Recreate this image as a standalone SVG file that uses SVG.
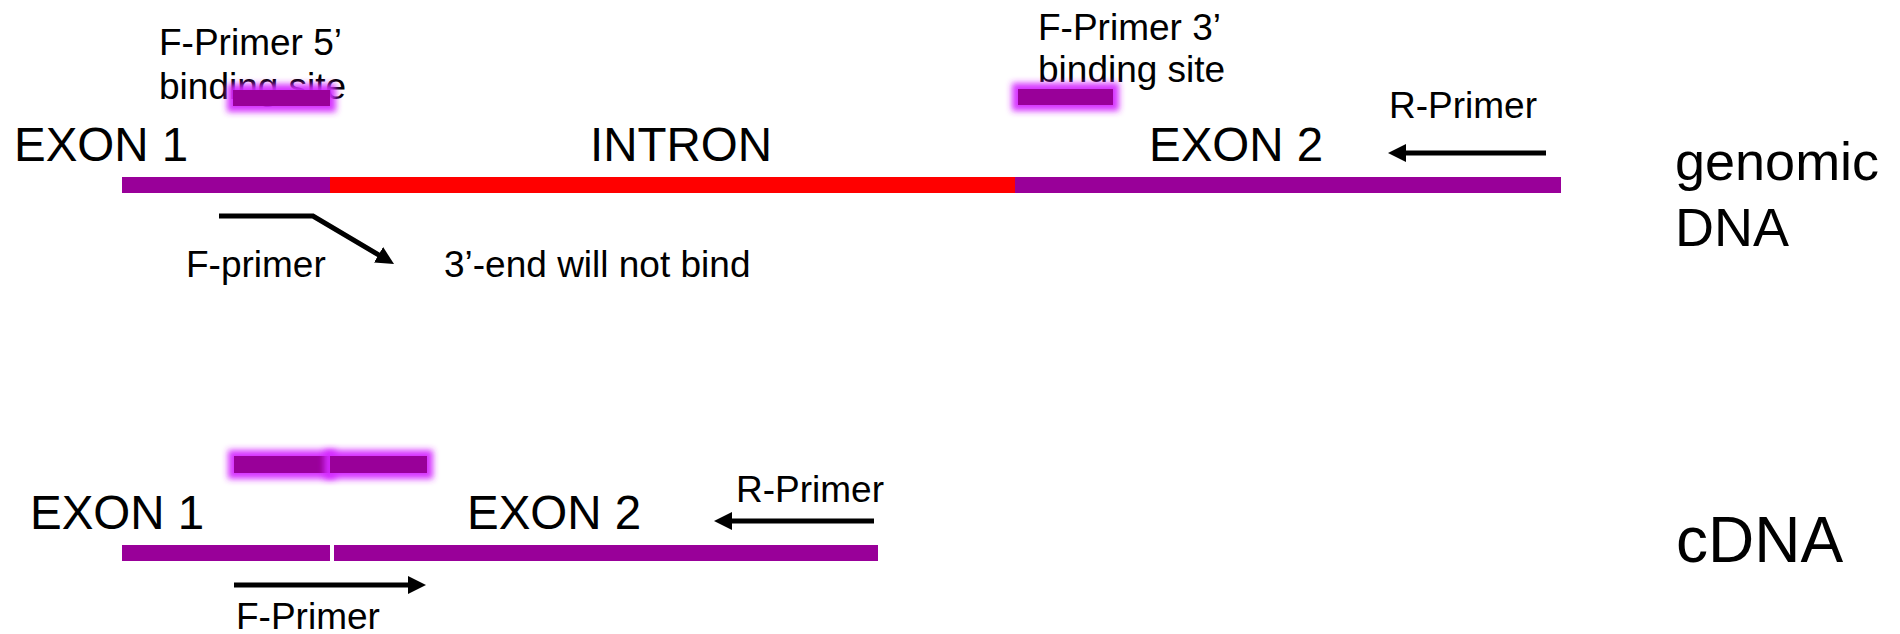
<svg xmlns="http://www.w3.org/2000/svg" width="1900" height="634" viewBox="0 0 1900 634">
<style>
text{font-family:"Liberation Sans",Arial,sans-serif;fill:#000}
.big{font-size:47.5px}
.sm{font-size:37px}
.lbl{font-size:54px}
.exon{fill:#990099}
.intron{fill:#ff0000}
.site{fill:#990099;filter:url(#glow)}
.arr{stroke:#000;stroke-width:5;fill:none;marker-end:url(#ah)}
</style>
<defs>
<marker id="ah" markerUnits="userSpaceOnUse" markerWidth="18" markerHeight="18" refX="8" refY="9" orient="auto" viewBox="0 0 18 18">
<path d="M0,0 L18,9 L0,18 z" fill="#000"/>
</marker>
<filter id="glow" x="-40%" y="-150%" width="180%" height="400%">
<feMorphology in="SourceAlpha" operator="dilate" radius="6" result="d"/>
<feGaussianBlur in="d" stdDeviation="3.2" result="b"/>
<feFlood flood-color="#d42aff" flood-opacity="0.95"/>
<feComposite in2="b" operator="in" result="g"/>
<feMerge><feMergeNode in="g"/><feMergeNode in="SourceGraphic"/></feMerge>
</filter>
</defs>
<rect width="1900" height="634" fill="#fff"/>

<g id="genomic">
<g id="g-exon1"><rect class="exon" x="122" y="177" width="208" height="16"/><text class="big" x="14" y="161">EXON 1</text></g>
<g id="g-intron"><rect class="intron" x="330" y="177" width="685" height="16"/><text class="big" x="590" y="161">INTRON</text></g>
<g id="g-exon2"><rect class="exon" x="1015" y="177" width="546" height="16"/><text class="big" x="1149" y="161">EXON 2</text></g>
<g id="g-f5site"><text class="sm" x="159" y="55">F-Primer 5’</text><text class="sm" x="159" y="99">binding site</text><rect class="site" x="233" y="90" width="97" height="16"/></g>
<g id="g-f3site"><text class="sm" x="1038" y="40">F-Primer 3’</text><text class="sm" x="1038" y="82">binding site</text><rect class="site" x="1018" y="89" width="95" height="16"/></g>
<g id="g-rprimer"><text class="sm" x="1389" y="118">R-Primer</text></g>
<g id="g-fprimer"><text class="sm" x="186" y="277">F-primer</text></g>
<g id="g-note"><text class="sm" x="444" y="277">3’-end will not bind</text></g>
<g id="g-label"><text class="lbl" x="1675" y="180">genomic</text><text class="lbl" x="1675" y="246">DNA</text></g>
</g>

<g id="cdna">
<g id="c-exon1"><rect class="exon" x="122" y="545" width="208" height="16"/><text class="big" x="30" y="529">EXON 1</text></g>
<g id="c-exon2"><rect class="exon" x="334" y="545" width="544" height="16"/><text class="big" x="467" y="529">EXON 2</text></g>
<g id="c-site"><rect class="site" x="234" y="456" width="96" height="17"/><rect class="site" x="330" y="456" width="97" height="17"/></g>
<g id="c-rprimer"><text class="sm" x="736" y="502">R-Primer</text></g>
<g id="c-fprimer"><text class="sm" x="236" y="629">F-Primer</text></g>
<g id="c-label"><text style="font-size:64px" x="1676" y="562">cDNA</text></g>
</g>

<g id="connectors">
<polyline class="arr" points="219,216 313,216 385.4,258.9"/>
<line class="arr" x1="1546" y1="153" x2="1398" y2="153"/>
<line class="arr" x1="874" y1="521" x2="724" y2="521"/>
<line class="arr" x1="234" y1="585" x2="416" y2="585"/>
</g>
</svg>
